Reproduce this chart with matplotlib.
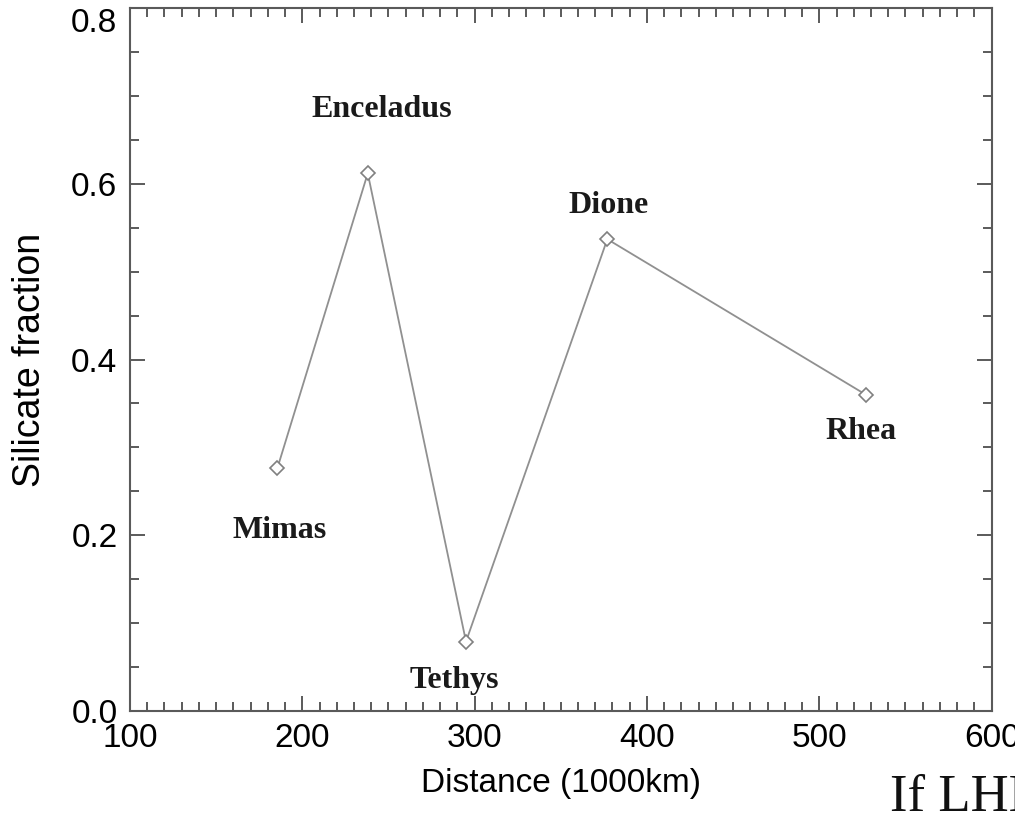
import numpy as np
import matplotlib
matplotlib.use('Agg')
import matplotlib.pyplot as plt
from matplotlib.ticker import MultipleLocator

# moons of Saturn: distance (1000 km) vs silicate fraction
moons = ['Mimas', 'Enceladus', 'Tethys', 'Dione', 'Rhea']
dist = [185.5, 238, 295, 377, 527]
silicate = [0.276, 0.612, 0.079, 0.537, 0.36]

# where the names sit
label_x = [187, 246, 288, 378, 524]
label_y = [0.205, 0.685, 0.035, 0.575, 0.318]

sans = ['Liberation Sans', 'DejaVu Sans']
serif = ['Liberation Serif', 'DejaVu Serif']
spine_col = '#5a5a5a'

fig = plt.figure(figsize=(10.15, 8.13), dpi=100)
ax = fig.add_axes([0.128, 0.1255, 0.849, 0.8645])

ax.plot(dist, silicate, color='#909090', lw=1.3, marker='D', ms=7,
        mfc='white', mec='#808080', mew=1.2)

for name, lx, ly in zip(moons, label_x, label_y):
    ax.text(lx, ly, name, family=serif, fontweight='bold', fontsize=23,
            ha='center', va='center', color='#1a1a1a')

ax.set_xlim(100, 600)
ax.set_ylim(0, 0.8)
ax.xaxis.set_major_locator(MultipleLocator(100))
ax.xaxis.set_minor_locator(MultipleLocator(10))
ax.yaxis.set_major_locator(MultipleLocator(0.2))
ax.yaxis.set_minor_locator(MultipleLocator(0.05))
ax.yaxis.set_major_formatter(plt.FuncFormatter(lambda v, p: '%.1f' % v))

ax.tick_params(which='both', direction='in', top=True, right=True,
               color=spine_col, width=1.4)
ax.tick_params(which='major', length=11, pad=9, labelsize=24)
ax.tick_params(which='minor', length=6.5)
for lab in ax.get_xticklabels() + ax.get_yticklabels():
    lab.set_family(sans)
for s in ax.spines.values():
    s.set_color(spine_col)
    s.set_linewidth(1.5)

# top y label hangs below its tick, as in the original
for loc, tk in zip(ax.yaxis.get_majorticklocs(), ax.yaxis.get_major_ticks()):
    if abs(loc - 0.8) < 1e-6:
        tk.label1.set_va('top')

ax.set_xlabel('Distance (1000km)', family=sans, fontsize=24, labelpad=10)
ax.set_ylabel('Silicate fraction', family=sans, fontsize=27, labelpad=17)

fig.text(890 / 1015, 1 - 811 / 813, 'If LHB', family=serif, fontsize=38,
         ha='left', va='baseline', color='#111111')

fig.savefig('out.png', dpi=100)
